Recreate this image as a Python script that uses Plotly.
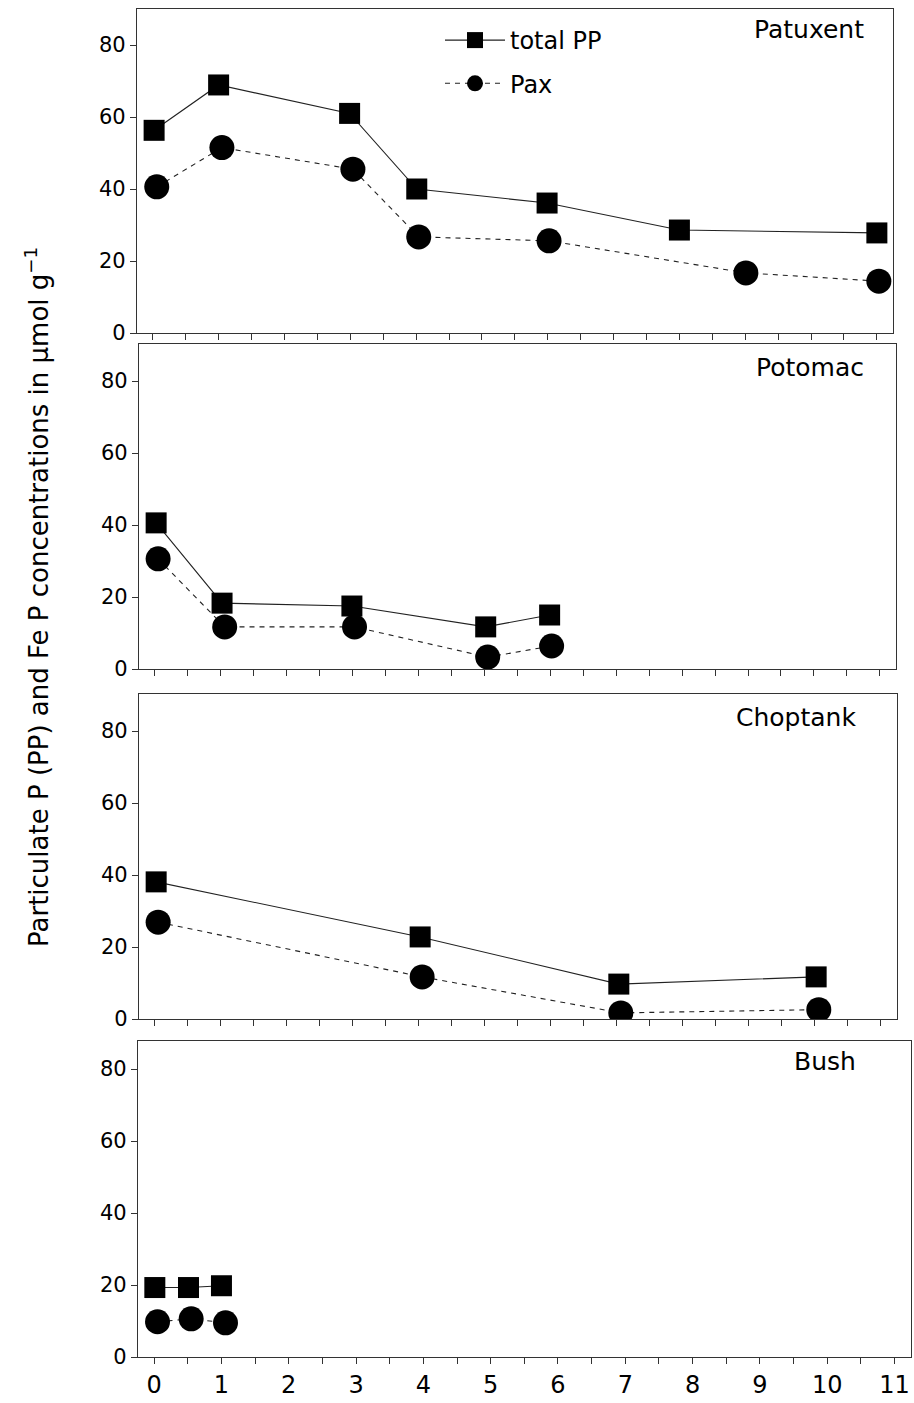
import plotly.graph_objects as go

# Sampling sites along each river, and P concentrations (umol/g)
patuxent_pp_x = [0.02, 1.0, 2.99, 4.01, 5.99, 8.0, 11.0]
patuxent_pp_y = [56.3, 68.9, 61.0, 40.0, 36.1, 28.6, 27.8]
patuxent_pax_x = [0.06, 1.05, 3.04, 4.04, 6.02, 9.01, 11.03]
patuxent_pax_y = [40.6, 51.5, 45.5, 26.7, 25.6, 16.7, 14.4]

potomac_pp_x = [0.02, 1.02, 2.99, 5.02, 5.99]
potomac_pp_y = [40.6, 18.3, 17.5, 11.7, 15.0]
potomac_pax_x = [0.05, 1.06, 3.03, 5.05, 6.02]
potomac_pax_y = [30.6, 11.7, 11.7, 3.3, 6.4]

choptank_pp_x = [0.02, 4.02, 7.03, 10.02]
choptank_pp_y = [38.1, 22.8, 9.7, 11.7]
choptank_pax_x = [0.05, 4.05, 7.06, 10.06]
choptank_pax_y = [26.9, 11.7, 1.7, 2.6]

bush_pp_x = [0.01, 0.51, 1.0]
bush_pp_y = [19.3, 19.3, 19.8]
bush_pax_x = [0.05, 0.55, 1.06]
bush_pax_y = [9.8, 10.6, 9.5]

site_names = ["Patuxent", "Potomac", "Choptank", "Bush"]
y_ticks = [0, 20, 40, 60, 80]
x_ticks = [i * 0.5 for i in range(23)]
x_ticktext = [str(int(v)) if v == int(v) else "" for v in x_ticks]

W, H = 914, 1403
FONT = "DejaVu Sans"
AX = "#333333"


def px_x(a, b):
    return [a / W, b / W]


def px_y(top, bottom):
    return [1 - bottom / H, 1 - top / H]


panels = [
    dict(pp=(patuxent_pp_x, patuxent_pp_y), pax=(patuxent_pax_x, patuxent_pax_y),
         xd=px_x(137, 893), yd=px_y(9, 333), yr=[0, 90], lab=(866, 30)),
    dict(pp=(potomac_pp_x, potomac_pp_y), pax=(potomac_pax_x, potomac_pax_y),
         xd=px_x(139, 896), yd=px_y(344, 669), yr=[0, 90.3], lab=(866, 367)),
    dict(pp=(choptank_pp_x, choptank_pp_y), pax=(choptank_pax_x, choptank_pax_y),
         xd=px_x(139, 897), yd=px_y(694, 1019), yr=[0, 90.3], lab=(858, 718)),
    dict(pp=(bush_pp_x, bush_pp_y), pax=(bush_pax_x, bush_pax_y),
         xd=px_x(138, 911), yd=px_y(1041, 1357), yr=[0, 87.8], lab=(858, 1061)),
]

fig = go.Figure()
layout = {}
annotations = []

for i, p in enumerate(panels):
    n = "" if i == 0 else str(i + 1)
    xa, ya = "x" + n, "y" + n
    fig.add_trace(go.Scatter(
        x=p["pp"][0], y=p["pp"][1], xaxis=xa, yaxis=ya, mode="lines+markers",
        name="total PP", showlegend=(i == 0), legendgroup="pp",
        line=dict(color="#222222", width=1.1),
        marker=dict(symbol="square", size=21, color="black", line=dict(width=0)),
    ))
    fig.add_trace(go.Scatter(
        x=p["pax"][0], y=p["pax"][1], xaxis=xa, yaxis=ya, mode="lines+markers",
        name="Pax", showlegend=(i == 0), legendgroup="pax",
        line=dict(color="#222222", width=1.1, dash="5px,5px"),
        marker=dict(symbol="circle", size=25, color="black", line=dict(width=0)),
    ))
    layout["xaxis" + n] = dict(
        domain=p["xd"], anchor=ya, range=[-0.24, 11.245], automargin=False,
        tickmode="array", tickvals=x_ticks,
        ticktext=x_ticktext if i == 3 else [""] * len(x_ticks),
        ticks="outside", ticklen=6, tickwidth=1.2, tickcolor=AX,
        showline=True, linecolor=AX, linewidth=1.3, mirror=True,
        showgrid=False, zeroline=False,
        tickfont=dict(family=FONT, size=24, color="black"),
    )
    layout["yaxis" + n] = dict(
        domain=p["yd"], anchor=xa, range=p["yr"], automargin=False,
        tickmode="array", tickvals=y_ticks,
        ticks="outside", ticklen=6, tickwidth=1.2, tickcolor=AX,
        showline=True, linecolor=AX, linewidth=1.3, mirror=True,
        showgrid=False, zeroline=False,
        tickfont=dict(family=FONT, size=21, color="black"),
    )
    annotations.append(dict(
        text=site_names[i], xref="paper", yref="paper",
        x=p["lab"][0] / W, y=1 - p["lab"][1] / H, xanchor="right", yanchor="middle",
        showarrow=False, font=dict(family=FONT, size=25, color="black"),
    ))

annotations.append(dict(
    text="Particulate P (PP) and Fe P concentrations in µmol g<sup>−1</sup>",
    xref="paper", yref="paper", x=37 / W, y=1 - 597 / H,
    xanchor="center", yanchor="middle", textangle=-90, showarrow=False,
    font=dict(family=FONT, size=26, color="black"),
))

fig.update_layout(
    **layout,
    template="none",
    annotations=annotations,
    width=W, height=H,
    margin=dict(l=0, r=0, t=0, b=0, pad=0),
    paper_bgcolor="white", plot_bgcolor="white",
    showlegend=True,
    legend=dict(
        x=440 / W, y=1 - 18 / H, xanchor="left", yanchor="top",
        bgcolor="rgba(0,0,0,0)", font=dict(family=FONT, size=24, color="black"),
        itemwidth=60, tracegroupgap=9, traceorder="grouped",
    ),
)

fig.write_html("out.html")
